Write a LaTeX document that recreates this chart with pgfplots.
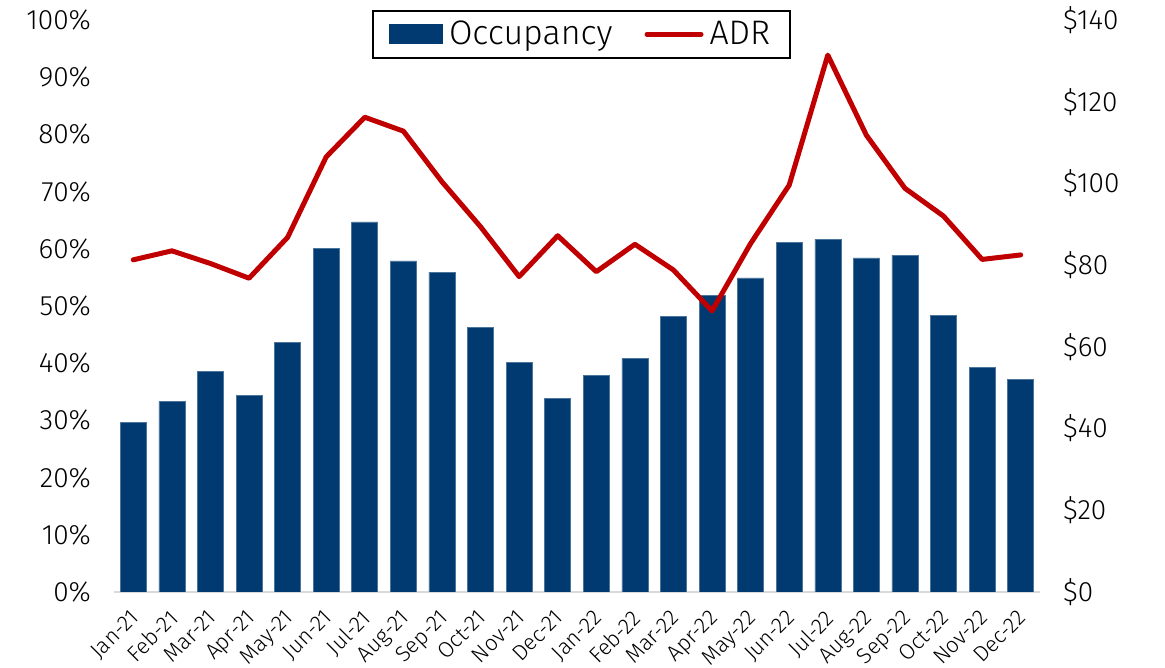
\documentclass[border=0pt]{standalone}
\usepackage{pgfplots}
\usepackage{pgfplotstable}
\pgfplotsset{compat=1.18}
\usepackage{fontspec}
\setmainfont{Fira Sans}[UprightFont=* Light]

\definecolor{occblue}{RGB}{0,58,112}
\definecolor{adrred}{RGB}{192,0,0}
\definecolor{basegray}{RGB}{217,217,217}

% month index, occupancy (%), ADR ($)
\pgfplotstableread{
x occ  adr
0  29.7 81.3
1  33.3 83.5
2  38.5 80.4
3  34.3 76.8
4  43.6 86.8
5  60.1 106.5
6  64.7 116.2
7  57.9 112.8
8  55.9 100.4
9  46.2 89.4
10 40.2 77.2
11 33.9 87.2
12 37.8 78.4
13 40.8 85.1
14 48.2 78.8
15 51.8 68.8
16 54.9 85.3
17 61.1 99.6
18 61.7 131.4
19 58.4 111.8
20 58.9 98.8
21 48.3 92.0
22 39.2 81.4
23 37.1 82.5
}\datatable

\pgfplotsset{
  common/.style={
    scale only axis, width=463pt, height=286pt,
    xmin=-0.5, xmax=23.5,
    /pgf/number format/assume math mode=true,
    tick style={draw=none},
    yticklabel style={font=\fontsize{14}{16}\selectfont},
  },
}

\begin{document}
\begin{tikzpicture}
\useasboundingbox (-57pt,-38pt) rectangle (525.5pt,296pt);
\begin{axis}[
  common,
  ymin=0, ymax=100,
  axis y line*=left, axis x line*=bottom,
  y axis line style={draw=none},
  x axis line style={draw=basegray, line width=1pt, -},
  ytick={0,10,...,100},
  yticklabel={\pgfmathprintnumber{\tick}\%},
  yticklabel style={xshift=-8pt},
  xtick={0,...,23},
  xticklabels={Jan-21,Feb-21,Mar-21,Apr-21,May-21,Jun-21,Jul-21,Aug-21,Sep-21,Oct-21,Nov-21,Dec-21,
                Jan-22,Feb-22,Mar-22,Apr-22,May-22,Jun-22,Jul-22,Aug-22,Sep-22,Oct-22,Nov-22,Dec-22},
  xticklabel style={xshift=-2pt, yshift=-8pt, rotate=45, anchor=north east, inner sep=0pt,
                    font=\fontsize{11}{13}\selectfont},
]
\addplot[ybar, bar width=13pt, fill=occblue, draw=occblue!70!white, line width=0.3pt]
  table[x=x, y=occ] {\datatable};
\end{axis}
\begin{axis}[
  common,
  ymin=0, ymax=140,
  axis y line*=right, axis x line=none,
  y axis line style={draw=none},
  ytick={0,20,...,140},
  yticklabel={\$\pgfmathprintnumber{\tick}},
  yticklabel style={xshift=8pt},
  legend columns=2,
  legend style={at={(0.505,1.0175)}, anchor=north, draw=black, line width=1pt,
    font=\fontsize{17}{20}\selectfont, inner xsep=8pt, inner ysep=3pt,
    /tikz/every even column/.append style={column sep=14pt},
    /tikz/every odd column/.append style={column sep=1pt}},
]
\addlegendimage{legend image code/.code={\fill[occblue] (0pt,-4.5pt) rectangle (26pt,4.5pt);}}
\addlegendentry{Occupancy}
\addplot[adrred, line width=2.5pt, line join=round, line cap=round,
  legend image code/.code={\draw[adrred, line width=2.5pt, line cap=round] (0pt,0pt) -- (27pt,0pt);}]
  table[x=x, y=adr] {\datatable};
\addlegendentry{ADR}
\end{axis}
\end{tikzpicture}
\end{document}
